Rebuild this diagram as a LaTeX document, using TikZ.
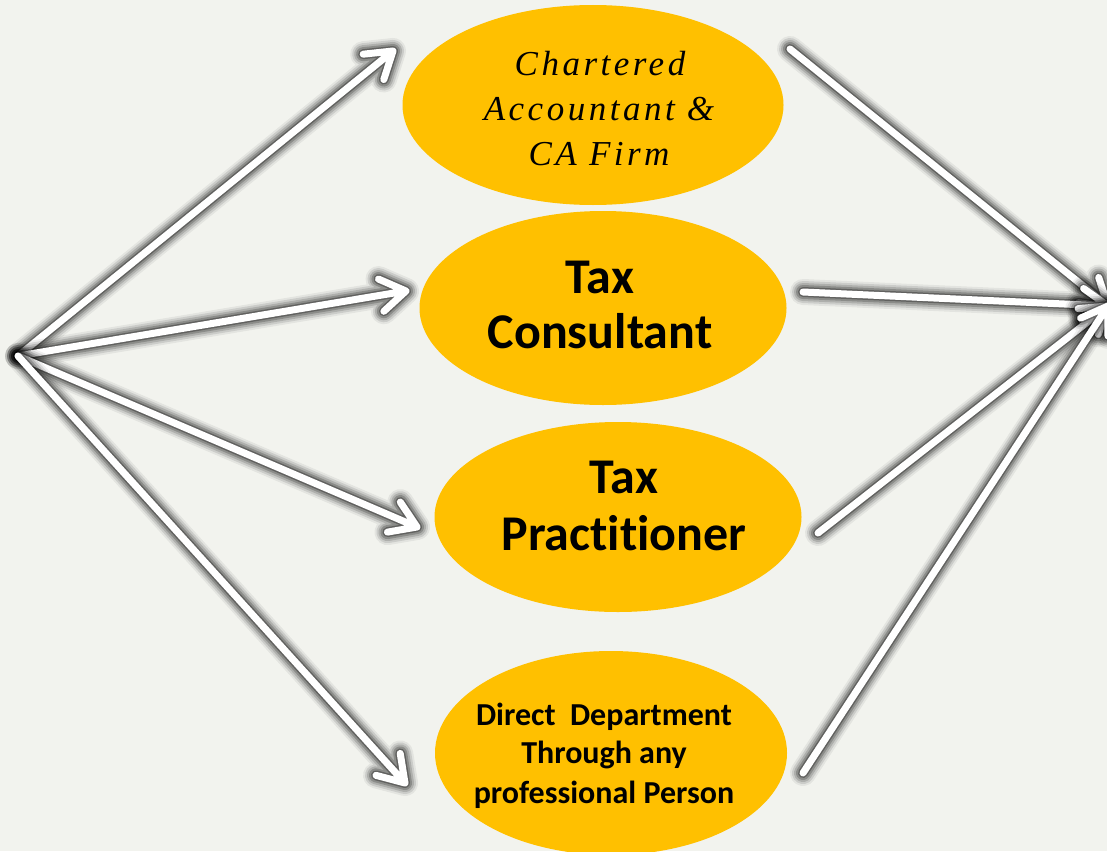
\documentclass[tikz,border=0pt]{standalone}
\usepackage{fontspec}
\usetikzlibrary{shapes.geometric,calc}
\newfontfamily\calb{Carlito}[Ligatures=NoCommon]
\newfontfamily\camit{Liberation Serif}[LetterSpace=10]
\definecolor{bg}{HTML}{F2F3EE}
\definecolor{amber}{HTML}{FFC000}
\tikzset{
  halo/.style 2 args={preaction={draw=black, line width=#1, opacity=#2, line cap=round, line join=round}},
  glowline/.style={line cap=round, line join=round,
    halo={26pt}{0.06}, halo={22pt}{0.10}, halo={18pt}{0.14},
    halo={14pt}{0.20}, halo={10pt}{0.30},
    draw=white, line width=7pt},
  ell/.style={ellipse, fill=amber, draw=none, inner sep=0pt},
  big/.style={font=\calb\bfseries\fontsize{50}{58}\selectfont, anchor=base, inner sep=0pt},
  small/.style={font=\calb\bfseries\fontsize{32}{39}\selectfont, anchor=base, inner sep=0pt},
  ital/.style={font=\camit\itshape\fontsize{35}{45}\selectfont, anchor=base, inner sep=0pt}
}
% arrow with open chevron head, drawn as one path so the glow is uniform
\newcommand\glowarrow[2]{%
  \draw[glowline] (#1) -- (#2) -- ($(#2)!30pt!33:(#1)$) (#2) -- ($(#2)!30pt!-33:(#1)$);}
\begin{document}
\begin{tikzpicture}[x=1pt,y=-1pt]
\fill[bg] (0,0) rectangle (1107,851);
\useasboundingbox (0,0) rectangle (1107,851);
\begin{scope}
\clip (0,0) rectangle (1107,851);
% ellipses
\node[ell, minimum width=381pt, minimum height=200pt] (e1) at (593,105) {};
\node[ell, minimum width=367pt, minimum height=194pt] (e2) at (603,308) {};
\node[ell, minimum width=367pt, minimum height=190pt] (e3) at (618,517) {};
\node[ell, minimum width=352pt, minimum height=204pt] (e4) at (611,753) {};
% texts
\node[ital] (l1a) at (600,75) {Chartered};
\node[ital] (l1b) at (599,120) {Accountant \&};
\node[ital] (l1c) at (599,165) {CA Firm};
\node[big] (l2a) at (600,293) {Tax};
\node[big] (l2b) at (600,348) {Consultant};
\node[big] (l3a) at (624,493) {Tax};
\node[big] (l3b) at (624,550) {Practitioner};
\node[small] (l4a) at (604,725) {Direct\ \ Department};
\node[small] (l4b) at (604,763) {Through any};
\node[small] (l4c) at (604,803) {professional Person};
% connectors
\coordinate (src) at (18,356);
\coordinate (snk) at (1108,306);
\coordinate (a1) at (393,51);
\coordinate (a2) at (406,291);
\coordinate (a3) at (417,527);
\coordinate (a4) at (405,783);
\coordinate (b1) at (790,49);
\coordinate (b2) at (803,292);
\coordinate (b3) at (818,533);
\coordinate (b4) at (803,773);
\glowarrow{src}{a1}
\glowarrow{src}{a2}
\glowarrow{src}{a3}
\glowarrow{src}{a4}
\glowarrow{b1}{snk}
\glowarrow{b2}{snk}
\glowarrow{b3}{snk}
\glowarrow{b4}{snk}
\end{scope}
\end{tikzpicture}
\end{document}
